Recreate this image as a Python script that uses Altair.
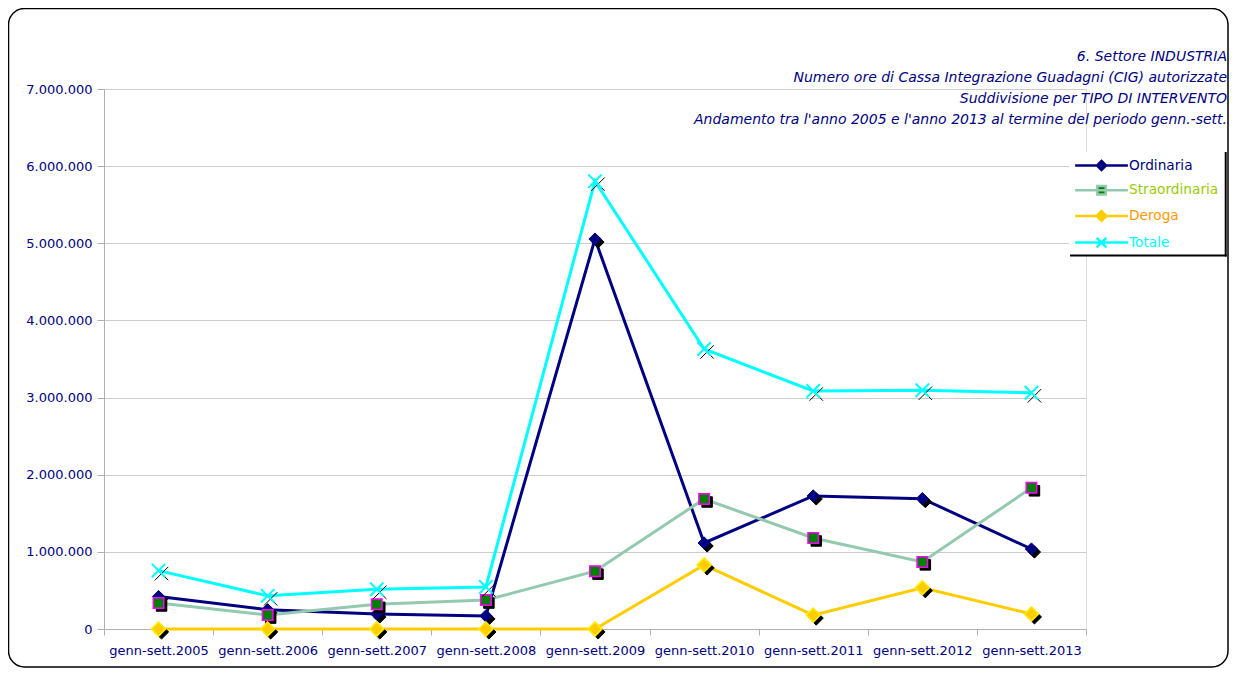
import altair as alt
import pandas as pd

categories = ["genn-sett.2005", "genn-sett.2006", "genn-sett.2007", "genn-sett.2008",
              "genn-sett.2009", "genn-sett.2010", "genn-sett.2011", "genn-sett.2012",
              "genn-sett.2013"]
series = ["Ordinaria", "Straordinaria", "Deroga", "Totale"]
ordinaria = [420000, 250000, 195000, 170000, 5055000, 1115000, 1725000, 1690000, 1037000]
straordinaria = [337000, 180000, 320000, 375000, 750000, 1685000, 1180000, 870000, 1830000]
deroga = [0, 0, 0, 0, 0, 830000, 180000, 535000, 195000]
totale = [757000, 430000, 515000, 545000, 5805000, 3630000, 3085000, 3095000, 3062000]
title_lines = [
    "6. Settore INDUSTRIA",
    "Numero ore di Cassa Integrazione Guadagni (CIG) autorizzate",
    "Suddivisione per TIPO DI INTERVENTO",
    "Andamento tra l'anno 2005 e l'anno 2013 al termine del periodo genn.-sett.",
]

rows = []
for s, vals in zip(series, [ordinaria, straordinaria, deroga, totale]):
    for c, v in zip(categories, vals):
        rows.append({"Periodo": c, "Serie": s, "Ore": v})
df = pd.DataFrame(rows)

NAVY = "#000080"
line_colors = ["#000080", "#93C9AE", "#FFCC00", "#00FFFF"]
marker_fill = ["#000080", "#008000", "#FFCC00", "#00FFFF"]
marker_stroke = ["#000080", "#FF00FF", "#FFEE00", "#00FFFF"]
marker_sw = [1, 1.5, 1.5, 2]
label_colors = ["#000080", "#99CC00", "#FF9900", "#00FFFF"]
DIAMOND = "M0,-1L1,0L0,1L-1,0Z"
SQUARE = "M-1,-1L1,-1L1,1L-1,1Z"
XMARK = "M-1,-1L1,1M-1,1L1,-1"
marker_shapes = [DIAMOND, SQUARE, DIAMOND, XMARK]
marker_sizes = [150, 110, 200, 180]
legend_shapes = [
    "M-4.4,0L4.4,0M0,-0.75L0.75,0L0,0.75L-0.75,0Z",
    "M-4.4,0L4.4,0M-0.7,-0.7L0.7,-0.7L0.7,0.7L-0.7,0.7Z",
    "M-4.4,0L4.4,0M0,-0.8L0.8,0L0,0.8L-0.8,0Z",
    "M-4.4,0L4.4,0M-0.8,-0.8L0.8,0.8M-0.8,0.8L0.8,-0.8",
]


def expr_map(values, default="'black'"):
    e = default
    for k, v in reversed(list(zip(series, values))):
        e = f"datum.value === '{k}' ? '{v}' : ({e})"
    return e


FONT = "DejaVu Sans"

x_enc = alt.X(
    "Periodo:N",
    sort=categories,
    scale=alt.Scale(type="band", paddingInner=0, paddingOuter=0),
    bandPosition=0.5,
    axis=alt.Axis(
        title=None, labelAngle=0, tickBand="extent", labelColor=NAVY,
        labelFont=FONT, labelFontSize=13, labelPadding=9, tickSize=6,
        tickColor="#B0B0B0", domainColor="#B0B0B0", grid=False,
    ),
)
y_enc = alt.Y(
    "Ore:Q",
    scale=alt.Scale(domain=[0, 7000000], nice=False),
    axis=alt.Axis(
        title=None, values=list(range(0, 7000001, 1000000)),
        labelExpr="replace(format(datum.value, ',d'), regexp(',', 'g'), '.')",
        labelColor=NAVY, labelFont=FONT, labelFontSize=13, labelPadding=5,
        tickSize=7, tickColor="#B0B0B0", domainColor="#B0B0B0",
        grid=True, gridColor="#CCCCCC",
    ),
)

legend = alt.Legend(
    title=None, orient="none", legendX=985, legendY=64, symbolSize=144,
    labelFont=FONT, labelFontSize=13.7, labelOffset=20, rowPadding=5.7, padding=5,
    symbolType=alt.ExprRef(expr=expr_map(legend_shapes, "'circle'")),
    symbolFillColor=alt.ExprRef(expr=expr_map(marker_fill)),
    symbolStrokeColor=alt.ExprRef(expr=expr_map(line_colors)),
    symbolStrokeWidth=2.5, symbolOpacity=1,
    labelColor=alt.ExprRef(expr=expr_map(label_colors)),
)

one = pd.DataFrame({"k": [0]})

frame = alt.Chart(one).mark_rect(
    fill=None, stroke="black", strokeWidth=1.5, cornerRadius=16
).encode(
    x=alt.value(-95.5), x2=alt.value(1124), y=alt.value(-80.5), y2=alt.value(578)
)

legend_box = alt.Chart(one).mark_rect(fill="white", stroke=None).encode(
    x=alt.value(965), x2=alt.value(1121), y=alt.value(63), y2=alt.value(166)
)
legend_right = alt.Chart(one).mark_rule(color="black", strokeWidth=2).encode(
    x=alt.value(1121.7), y=alt.value(63), y2=alt.value(167.5)
)
legend_bottom = alt.Chart(one).mark_rule(color="black", strokeWidth=2).encode(
    x=alt.value(966), x2=alt.value(1122.7), y=alt.value(166.5)
)

lines = alt.Chart(df).mark_line(strokeWidth=3).encode(
    x=x_enc, y=y_enc,
    color=alt.Color("Serie:N", scale=alt.Scale(domain=series, range=line_colors), legend=legend),
)

layers = [frame, legend_box, legend_right, legend_bottom, lines]
for i, s in enumerate(series):
    base = alt.Chart(df).transform_filter(alt.datum.Serie == s)
    layers.append(
        base.mark_point(
            shape=marker_shapes[i], size=marker_sizes[i], filled=True,
            fill="black", stroke="black", strokeWidth=1, opacity=1, xOffset=3, yOffset=3,
        ).encode(x=x_enc, y=y_enc)
    )
    layers.append(
        base.mark_point(
            shape=marker_shapes[i], size=marker_sizes[i], filled=True,
            fill=marker_fill[i], stroke=marker_stroke[i], strokeWidth=marker_sw[i], opacity=1,
        ).encode(x=x_enc, y=y_enc)
    )

chart = alt.layer(*layers).properties(
    width=982, height=540,
    padding={"left": 96, "top": 81, "right": 143, "bottom": 39},
    autosize=alt.AutoSizeParams(type="none"),
    title=alt.TitleParams(
        text=title_lines, anchor="end", orient="top", frame="group",
        font=FONT, fontSize=14, fontStyle="italic", fontWeight="normal",
        color=NAVY, lineHeight=21, dx=141, dy=119.5, offset=0,
    ),
).configure_view(stroke=None).configure(background="white")

chart.save("out.html", embed_options={"renderer": "svg", "actions": False})
